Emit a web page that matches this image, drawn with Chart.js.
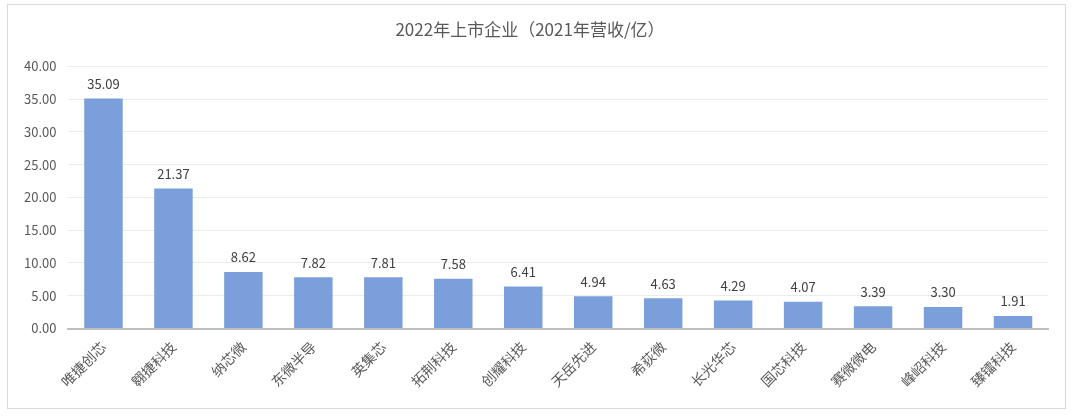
<!DOCTYPE html>
<html>
<head>
<meta charset="utf-8">
<script src="https://cdn.jsdelivr.net/npm/chart.js@4"></script>
<style>
    html, body { margin: 0; padding: 0; background: #fff; }
    #wrap { width: 1080px; height: 418px; position: relative; }
</style>
</head>
<body>
<div id="wrap"><canvas id="revenue"></canvas></div>
<script>
const companies = ['唯捷创芯', '翱捷科技', '纳芯微', '东微半导', '英集芯', '拓荆科技', '创耀科技',
    '天岳先进', '希荻微', '长光华芯', '国芯科技', '赛微微电', '峰岹科技', '臻镭科技'];
const revenue2021 = [35.09, 21.37, 8.62, 7.82, 7.81, 7.58, 6.41, 4.94, 4.63, 4.29, 4.07, 3.39, 3.30, 1.91];
const chartTitle = '2022年上市企业（2021年营收/亿）';

const fontFamily = "'Noto Sans CJK SC', 'Noto Sans', sans-serif";

// outer frame like the office chart border
const framePlugin = {
    id: 'frame',
    beforeDraw(chart) {
        const ctx = chart.ctx;
        ctx.save();
        ctx.fillStyle = '#fff';
        ctx.fillRect(0, 0, chart.width, chart.height);
        ctx.strokeStyle = '#d9d9d9';
        ctx.lineWidth = 1;
        ctx.strokeRect(7.5, 4.5, 1058, 404);
        ctx.restore();
    }
};

const valueLabels = {
    id: 'valueLabels',
    afterDatasetsDraw(chart) {
        const ctx = chart.ctx;
        const meta = chart.getDatasetMeta(0);
        ctx.save();
        ctx.font = '13px ' + fontFamily;
        ctx.fillStyle = '#404040';
        ctx.textAlign = 'center';
        ctx.textBaseline = 'bottom';
        meta.data.forEach((bar, i) => {
            ctx.fillText(revenue2021[i].toFixed(2), bar.x, bar.y - 8);
        });
        ctx.restore();
    }
};

new Chart(document.getElementById('revenue'), {
    type: 'bar',
    data: {
        labels: companies,
        datasets: [{
            data: revenue2021,
            backgroundColor: '#7b9fdb',
            barPercentage: 0.55,
            categoryPercentage: 1.0,
        }]
    },
    options: {
        responsive: true,
        maintainAspectRatio: false,
        animation: false,
        layout: {
            padding: { left: 12, right: 32, top: 10, bottom: 18 }
        },
        plugins: {
            legend: { display: false },
            tooltip: { enabled: false },
            title: {
                display: true,
                text: chartTitle,
                color: '#595959',
                font: { size: 17, family: fontFamily, weight: 'normal' },
                padding: { top: 9, bottom: 27 }
            }
        },
        scales: {
            x: {
                grid: { display: false, drawTicks: false },
                border: { color: '#bfbfbf', width: 2 },
                ticks: {
                    color: '#595959',
                    font: { size: 14, family: fontFamily },
                    minRotation: 45,
                    maxRotation: 45,
                    padding: 10,
                    autoSkip: false
                }
            },
            y: {
                min: 0,
                max: 40,
                grid: { color: '#ebebeb', drawTicks: false },
                border: { display: false },
                ticks: {
                    stepSize: 5,
                    color: '#595959',
                    font: { size: 13, family: fontFamily },
                    padding: 12,
                    callback: (v) => v.toFixed(2)
                }
            }
        }
    },
    plugins: [framePlugin, valueLabels]
});
</script>
</body>
</html>
